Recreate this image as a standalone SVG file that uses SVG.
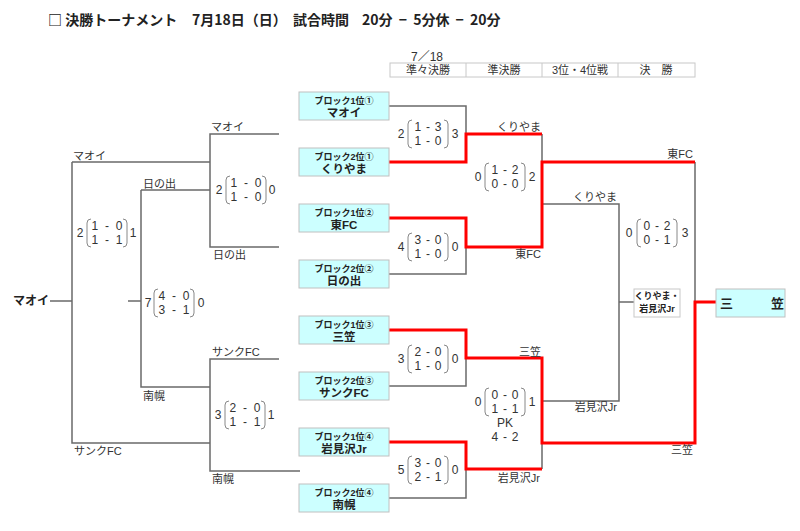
<svg xmlns="http://www.w3.org/2000/svg" width="800" height="531" viewBox="0 0 800 531">
<style>
text{font-family:"Liberation Sans","Noto Sans CJK JP",sans-serif;fill:#222}
.title{font-family:"Noto Sans CJK JP","Liberation Sans",sans-serif;font-size:14px;font-weight:bold}
.hd{font-size:11px;fill:#333}
.lbl{font-size:11px;fill:#333}
.sc{font-size:12px;fill:#333;text-anchor:middle;word-spacing:1.5px}
.wide .sc{word-spacing:3.5px}
.bx{fill:#ccffff;stroke:#c0c0c0;stroke-width:1}
.b1{font-size:9px;font-weight:bold;text-anchor:middle}
.b2{font-size:11.5px;font-weight:bold;text-anchor:middle}
.g{fill:none;stroke:#6a6a6a;stroke-width:1.5}
.r{fill:none;stroke:#ff0000;stroke-width:3}
.br{fill:none;stroke:#888;stroke-width:1}
.end{text-anchor:end}
</style>
<defs>
<g id="brk">
<path class="br" d="M-16,-14 Q-20,-14 -20,-10 V10 Q-20,14 -16,14"/>
<path class="br" d="M16,-14 Q20,-14 20,-10 V10 Q20,14 16,14"/>
</g>
</defs>
<rect width="800" height="531" fill="#fff"/>
<text class="title" y="25"><tspan x="48">□ 決勝トーナメント</tspan><tspan x="192">7月18日（日）</tspan><tspan x="293">試合時間</tspan><tspan x="362" style="word-spacing:3px">20分 − 5分休 − 20分</tspan></text>
<g id="header-table">
<text class="hd" x="427" y="61" text-anchor="middle" style="font-size:12px">7／18</text>
<rect x="390" y="63" width="305" height="14" fill="none" stroke="#c8c8c8"/>
<path d="M466,63V77M542,63V77M618,63V77" stroke="#c8c8c8"/>
<text class="hd" x="428" y="74" text-anchor="middle">準々決勝</text>
<text class="hd" x="504" y="74" text-anchor="middle">準決勝</text>
<text class="hd" x="580" y="74" text-anchor="middle">3位・4位戦</text>
<text class="hd" x="656" y="74" text-anchor="middle">決　勝</text>
</g>
<g id="connectors">
<path class="g" d="M279,134H210V247H279M72,162H210M141,190H210M72,162V443H210M141,190V387H210M279,359H210V471H300M50,301H72M128,301H141"/>
<path class="g" d="M389,106H466V134M389,274H466V247M389,386H466V358M389,498H466V469"/>
<path class="g" d="M542,134V162M542,204H619V401H542M542,443V469M619,302H634M695,162V302"/>
<path class="r" d="M389,162H466V134H542"/>
<path class="r" d="M389,218H466V247H542V162H695"/>
<path class="r" d="M389,330H466V358H542V443H695V302H716"/>
<path class="r" d="M389,442H466V469H542"/>
</g>
<g id="left-labels">
<text x="13" y="305" style="font-size:12px;font-weight:bold">マオイ</text>
<text class="lbl" x="211" y="131">マオイ</text>
<text class="lbl" x="73" y="160">マオイ</text>
<text class="lbl" x="143" y="188">日の出</text>
<text class="lbl" x="213" y="259">日の出</text>
<text class="lbl" x="212" y="356">サンクFC</text>
<text class="lbl" x="143" y="400">南幌</text>
<text class="lbl" x="74" y="455">サンクFC</text>
<text class="lbl" x="212" y="483">南幌</text>
</g>
<g id="right-labels">
<text class="lbl end" x="541" y="131">くりやま</text>
<text class="lbl end" x="541" y="258">東FC</text>
<text class="lbl end" x="541" y="356">三笠</text>
<text class="lbl end" x="540" y="482">岩見沢Jr</text>
<text class="lbl end" x="693" y="158">東FC</text>
<text class="lbl end" x="617" y="201">くりやま</text>
<text class="lbl end" x="617" y="411">岩見沢Jr</text>
<text class="lbl end" x="693" y="454">三笠</text>
</g>
<g id="node-b1-1"><rect class="bx" x="299" y="92" width="90" height="28"/><text class="b1" x="344" y="104">ブロック1位①</text><text class="b2" x="344" y="117">マオイ</text></g>
<g id="node-b2-1"><rect class="bx" x="299" y="148" width="90" height="28"/><text class="b1" x="344" y="160">ブロック2位①</text><text class="b2" x="344" y="173">くりやま</text></g>
<g id="node-b1-2"><rect class="bx" x="299" y="204" width="90" height="28"/><text class="b1" x="344" y="216">ブロック1位②</text><text class="b2" x="344" y="229">東FC</text></g>
<g id="node-b2-2"><rect class="bx" x="299" y="260" width="90" height="28"/><text class="b1" x="344" y="272">ブロック2位②</text><text class="b2" x="344" y="285">日の出</text></g>
<g id="node-b1-3"><rect class="bx" x="299" y="316" width="90" height="28"/><text class="b1" x="344" y="328">ブロック1位③</text><text class="b2" x="344" y="341">三笠</text></g>
<g id="node-b2-3"><rect class="bx" x="299" y="372" width="90" height="28"/><text class="b1" x="344" y="384">ブロック2位③</text><text class="b2" x="344" y="397">サンクFC</text></g>
<g id="node-b1-4"><rect class="bx" x="299" y="428" width="90" height="28"/><text class="b1" x="344" y="440">ブロック1位④</text><text class="b2" x="344" y="453">岩見沢Jr</text></g>
<g id="node-b2-4"><rect class="bx" x="299" y="484" width="90" height="28"/><text class="b1" x="344" y="496">ブロック2位④</text><text class="b2" x="344" y="509">南幌</text></g>
<g id="node-third"><rect x="634" y="289" width="46" height="28" fill="#fff" stroke="#c8c8c8"/><text class="b1" x="657" y="299">くりやま・</text><text class="b1" x="657" y="312">岩見沢Jr</text></g>
<g id="node-champion"><rect class="bx" x="716" y="289" width="69" height="28"/><text x="720" y="308" style="font-size:13px;font-weight:bold">三<tspan x="771">笠</tspan></text></g>
<g id="scores">
<g transform="translate(428,134)"><use href="#brk"/><text class="sc" x="-27" y="4">2</text><text class="sc" y="-3">1 - 3</text><text class="sc" y="11">1 - 0</text><text class="sc" x="27" y="4">3</text></g>
<g transform="translate(428,247)"><use href="#brk"/><text class="sc" x="-27" y="4">4</text><text class="sc" y="-3">3 - 0</text><text class="sc" y="11">1 - 0</text><text class="sc" x="27" y="4">0</text></g>
<g transform="translate(428,359)"><use href="#brk"/><text class="sc" x="-27" y="4">3</text><text class="sc" y="-3">2 - 0</text><text class="sc" y="11">1 - 0</text><text class="sc" x="27" y="4">0</text></g>
<g transform="translate(428,470)"><use href="#brk"/><text class="sc" x="-27" y="4">5</text><text class="sc" y="-3">3 - 0</text><text class="sc" y="11">2 - 1</text><text class="sc" x="27" y="4">0</text></g>
<g transform="translate(505,177)"><use href="#brk"/><text class="sc" x="-27" y="4">0</text><text class="sc" y="-3">1 - 2</text><text class="sc" y="11">0 - 0</text><text class="sc" x="27" y="4">2</text></g>
<g transform="translate(505,402)"><use href="#brk"/><text class="sc" x="-27" y="4">0</text><text class="sc" y="-3">0 - 0</text><text class="sc" y="11">1 - 1</text><text class="sc" x="27" y="4">1</text><text class="sc" y="25">PK</text><text class="sc" y="39">4 - 2</text></g>
<g transform="translate(657,233)"><use href="#brk"/><text class="sc" x="-28" y="4">0</text><text class="sc" y="-3">0 - 2</text><text class="sc" y="11">0 - 1</text><text class="sc" x="28" y="4">3</text></g>
<g class="wide" transform="translate(246,190)"><use href="#brk"/><text class="sc" x="-27" y="4">2</text><text class="sc" y="-3">1 - 0</text><text class="sc" y="11">1 - 0</text><text class="sc" x="26" y="4">0</text></g>
<g class="wide" transform="translate(107,233)"><use href="#brk"/><text class="sc" x="-27" y="4">2</text><text class="sc" y="-3">1 - 0</text><text class="sc" y="11">1 - 1</text><text class="sc" x="26" y="4">1</text></g>
<g class="wide" transform="translate(174,303)"><use href="#brk"/><text class="sc" x="-26" y="4">7</text><text class="sc" y="-3">4 - 0</text><text class="sc" y="11">3 - 1</text><text class="sc" x="27" y="4">0</text></g>
<g class="wide" transform="translate(245,415)"><use href="#brk"/><text class="sc" x="-27" y="4">3</text><text class="sc" y="-3">2 - 0</text><text class="sc" y="11">1 - 1</text><text class="sc" x="26" y="4">1</text></g>
</g>
</svg>
